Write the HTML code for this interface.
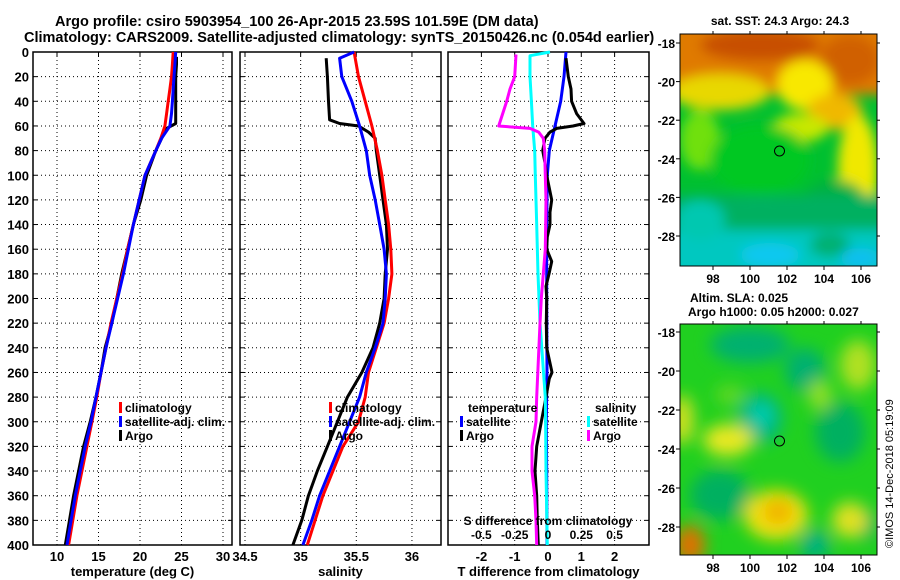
<!DOCTYPE html>
<html><head><meta charset="utf-8"><style>
html,body{margin:0;padding:0;background:#fff;}
svg{display:block;font-family:"Liberation Sans",sans-serif;font-weight:bold;}
</style></head><body>
<svg id="chart" width="900" height="580" viewBox="0 0 900 580" xmlns="http://www.w3.org/2000/svg">
<defs>
<filter id="blur1" x="-20%" y="-20%" width="140%" height="140%"><feGaussianBlur stdDeviation="6"/></filter>
<filter id="blur2" x="-20%" y="-20%" width="140%" height="140%"><feGaussianBlur stdDeviation="8"/></filter>
<clipPath id="clip1"><rect x="680" y="34" width="197" height="232"/></clipPath>
<clipPath id="clip2"><rect x="680" y="324" width="197" height="231"/></clipPath>
</defs>
<text x="55" y="26" font-size="14.5">Argo profile: csiro 5903954_100 26-Apr-2015 23.59S 101.59E (DM data)</text>
<text x="24" y="42" font-size="14.5">Climatology: CARS2009. Satellite-adjusted climatology: synTS_20150426.nc (0.054d earlier)</text>

<!-- SST map -->
<g clip-path="url(#clip1)">
<rect x="680" y="34" width="197" height="232" fill="#00c030"/>
<g filter="url(#blur1)">
<rect x="670" y="20" width="220" height="75" fill="#e07a00"/>
<ellipse cx="760" cy="45" rx="60" ry="16" fill="#c85000"/>
<ellipse cx="850" cy="60" rx="30" ry="25" fill="#d06000"/>
<ellipse cx="720" cy="92" rx="50" ry="18" fill="#e8d800"/>
<ellipse cx="805" cy="85" rx="28" ry="25" fill="#f8e800"/>
<ellipse cx="835" cy="112" rx="28" ry="18" fill="#f0b800"/>
<ellipse cx="858" cy="170" rx="20" ry="55" fill="#f0e800"/>
<ellipse cx="800" cy="128" rx="28" ry="14" fill="#c8e800"/>
<ellipse cx="700" cy="140" rx="20" ry="30" fill="#70e010"/>
<ellipse cx="760" cy="160" rx="50" ry="35" fill="#00c820"/>
<ellipse cx="835" cy="200" rx="30" ry="20" fill="#00b040"/>
<rect x="670" y="195" width="220" height="40" fill="#00b060"/>
<rect x="670" y="230" width="220" height="50" fill="#00c8c0"/>
<ellipse cx="700" cy="220" rx="25" ry="20" fill="#00c8b0"/>
<ellipse cx="770" cy="255" rx="30" ry="12" fill="#10c8f0"/>
<ellipse cx="830" cy="245" rx="20" ry="12" fill="#00b070"/>
<ellipse cx="860" cy="258" rx="20" ry="10" fill="#10c0f0"/>
</g>
</g>
<rect x="680" y="34" width="197" height="232" fill="none" stroke="#000" stroke-width="1"/>
<circle cx="779.5" cy="151" r="5" fill="none" stroke="#000" stroke-width="1"/>
<text x="780" y="25" font-size="12" text-anchor="middle">sat. SST: 24.3 Argo: 24.3</text>

<!-- SLA map -->
<g clip-path="url(#clip2)">
<rect x="680" y="324" width="197" height="231" fill="#20d020"/>
<g filter="url(#blur2)">
<ellipse cx="750" cy="345" rx="40" ry="18" fill="#00b070"/>
<ellipse cx="805" cy="370" rx="20" ry="22" fill="#00b070"/>
<ellipse cx="760" cy="418" rx="22" ry="25" fill="#00b888"/>
<ellipse cx="762" cy="415" rx="8" ry="9" fill="#00d8c0"/>
<ellipse cx="840" cy="432" rx="25" ry="30" fill="#00b060"/>
<ellipse cx="720" cy="495" rx="30" ry="25" fill="#00b060"/>
<ellipse cx="815" cy="545" rx="15" ry="15" fill="#00b080"/>
<ellipse cx="868" cy="525" rx="10" ry="15" fill="#00b060"/>
<ellipse cx="728" cy="440" rx="25" ry="16" fill="#e8e820"/>
<ellipse cx="682" cy="420" rx="12" ry="25" fill="#d0e020"/>
<ellipse cx="776" cy="515" rx="32" ry="25" fill="#f0e010"/>
<ellipse cx="778" cy="512" rx="15" ry="12" fill="#f0b000"/>
<ellipse cx="690" cy="545" rx="15" ry="20" fill="#e07000"/>
<ellipse cx="850" cy="520" rx="18" ry="18" fill="#e0e020"/>
<ellipse cx="858" cy="365" rx="18" ry="25" fill="#b0e020"/>
<ellipse cx="820" cy="395" rx="12" ry="15" fill="#90e020"/>
<ellipse cx="730" cy="395" rx="15" ry="10" fill="#60d820"/>
</g>
</g>
<rect x="680" y="324" width="197" height="231" fill="none" stroke="#000" stroke-width="1"/>
<circle cx="779.5" cy="441" r="5" fill="none" stroke="#000" stroke-width="1"/>
<text x="690" y="302" font-size="12">Altim. SLA: 0.025</text>
<text x="688" y="316" font-size="12">Argo h1000: 0.05 h2000: 0.027</text>
<text transform="translate(893,548) rotate(-90)" font-size="11" font-weight="normal">©IMOS 14-Dec-2018 05:19:09</text>

<g id="plots"></g>
</svg>
<script>
const depths = [0,10,20,30,40,50,60,70,80,100,120,140,160,180,200,220,240,260,280,300,320,340,360,380,400];
const tempClim = [24.0,23.9,23.8,23.6,23.4,23.2,23.0,22.5,21.9,20.6,19.9,19.2,18.5,17.9,17.2,16.5,15.9,15.3,14.8,14.2,13.6,13.0,12.4,11.9,11.4];
const tempSat = [24.3,24.2,24.1,24.0,23.9,23.8,23.6,22.6,21.9,20.6,19.9,19.2,18.6,18.0,17.3,16.6,15.9,15.3,14.7,14.1,13.4,12.8,12.2,11.7,11.2];
const argoDepths = [4,10,20,30,40,50,58,62,70,80,100,120,140,160,180,200,220,240,260,280,300,320,340,360,380,400];
const tempArgo = [24.4,24.4,24.3,24.3,24.3,24.3,24.3,23.2,22.6,21.9,20.8,20.1,19.2,18.5,17.8,17.2,16.6,15.8,15.3,14.7,14.0,13.2,12.6,12.0,11.5,11.0];
const salDepths = [0,5,20,40,60,80,100,120,140,160,180,200,220,240,260,280,300,320,340,360,380,400];
const salClim = [35.48,35.49,35.52,35.58,35.64,35.69,35.73,35.76,35.79,35.81,35.82,35.79,35.75,35.68,35.61,35.58,35.52,35.38,35.29,35.20,35.13,35.06];
const salSat = [35.48,35.35,35.37,35.46,35.53,35.59,35.62,35.67,35.71,35.75,35.77,35.76,35.74,35.67,35.59,35.53,35.44,35.35,35.26,35.17,35.10,35.02];
const salArgoDepths = [5,20,40,55,58,60,65,70,80,100,120,140,160,180,200,220,240,260,280,300,320,340,360,380,400];
const salArgo = [35.23,35.24,35.25,35.26,35.35,35.52,35.61,35.67,35.68,35.71,35.74,35.77,35.78,35.76,35.75,35.71,35.65,35.55,35.42,35.33,35.24,35.15,35.07,35.01,34.93];
const diffTDepths = [0,20,40,60,80,100,140,200,260,300,340,400];
const diffTSat = [0.54,0.48,0.38,0.21,0.04,-0.02,-0.04,-0.04,-0.03,-0.05,-0.04,-0.03];
const diffTArgoDepths = [5,20,30,40,50,58,60,62,65,70,80,90,100,120,130,140,150,160,170,180,190,200,220,240,255,260,265,280,300,320,340,360,380,400];
const diffTArgo = [0.54,0.61,0.69,0.71,0.86,1.08,0.75,0.26,0.06,-0.09,-0.16,-0.09,-0.04,0.11,0.06,0.06,-0.02,-0.04,0.11,0.03,-0.06,-0.04,-0.05,-0.04,0.08,0.12,0.04,-0.06,-0.20,-0.34,-0.39,-0.34,-0.32,-0.29];
const diffSSatDepths = [0,3,20,40,60,80,100,140,180,220,280,300,340,400];
const diffSSat = [0.015,-0.135,-0.135,-0.125,-0.115,-0.10,-0.095,-0.085,-0.075,-0.06,-0.02,-0.018,-0.015,-0.005];
const diffSArgoDepths = [2,20,30,40,50,60,62,65,70,80,100,120,160,200,220,280,300,320,340,360,380,400];
const diffSArgo = [-0.24,-0.25,-0.285,-0.31,-0.34,-0.37,-0.135,-0.07,-0.035,-0.025,-0.02,-0.015,-0.02,-0.05,-0.06,-0.085,-0.09,-0.12,-0.12,-0.10,-0.09,-0.085];
const depthTicks = [0,20,40,60,80,100,120,140,160,180,200,220,240,260,280,300,320,340,360,380,400];
const tempTicks = [10,15,20,25,30];
const salTicks = [34.5,35,35.5,36];
const diffTTicks = [-2,-1,0,1,2];
const diffSTicks = [-0.5,-0.25,0,0.25,0.5];
const diffSTickLabels = ['-0.5','-0.25','0','0.25','0.5'];

const NS = 'http://www.w3.org/2000/svg';
const root = document.getElementById('plots');
const TOP = 52, BOT = 545;
const yD = d => TOP + (d/400)*(BOT-TOP);
const xT = t => 57 + (t-10)*8.3;
const xS = s => 245 + (s-34.5)*111.3;
const xDT = t => 548 + t*33.3;
const xDS = s => 548 + s*133.2;

function mk(tag, attrs, parent){
  const e = document.createElementNS(NS, tag);
  for (const k in attrs) e.setAttribute(k, attrs[k]);
  (parent||root).appendChild(e);
  return e;
}
function panel(name, x0, x1, xs, xticks, xlabels, xtitle, showY){
  const g = mk('g', {});
  
  
  depthTicks.forEach(d => {
    if (d>0 && d<400) {
      const l = mk('line', {x1:x0, x2:x1, y1:yD(d), y2:yD(d), stroke:'#000', 'stroke-width':1, 'stroke-dasharray':'1 3'}, g);
      
      
    }
    mk('line', {x1:x0, x2:x0+4, y1:yD(d), y2:yD(d), stroke:'#000'}, g);
    mk('line', {x1:x1-4, x2:x1, y1:yD(d), y2:yD(d), stroke:'#000'}, g);
    if (showY) {
      const t = mk('text', {x:x0-4, y:yD(d)+5, 'text-anchor':'end', 'font-size':13}, g);
      t.textContent = d;
      
      
    }
  });
  xticks.forEach((v,i) => {
    const x = xs(v);
    const l = mk('line', {x1:x, x2:x, y1:TOP, y2:BOT, stroke:'#000', 'stroke-width':1, 'stroke-dasharray':'1 3'}, g);
    
    
    mk('line', {x1:x, x2:x, y1:TOP, y2:TOP+4, stroke:'#000'}, g);
    if (xlabels) {
      const t = mk('text', {x:x, y:BOT+16, 'text-anchor':'middle', 'font-size':13}, g);
      t.textContent = xlabels[i];
      
      
    }
  });
  const r = mk('rect', {x:x0, y:TOP, width:x1-x0, height:BOT-TOP, fill:'none', stroke:'#000', 'stroke-width':1.5}, g);
  
  
  const tt = mk('text', {x:(x0+x1)/2, y:576, 'text-anchor':'middle', 'font-size':13}, g);
  tt.textContent = xtitle;
  
  
  return g;
}
function series(g, name, depthArr, valArr, xs, color){
  const pts = valArr.map((v,i) => xs(v).toFixed(1)+','+yD(depthArr[i]).toFixed(1)).join(' ');
  const p = mk('polyline', {points:pts, fill:'none', stroke:color, 'stroke-width':3, 'stroke-linejoin':'round'}, g);
  
  
}
function legend(g, x, y, color, label, name){
  const m = mk('rect', {x:x, y:y-10, width:3, height:11, fill:color}, g);
  
  
  const t = mk('text', {x:x+6, y:y, 'font-size':12}, g);
  t.textContent = label;
  
  
}

const p1 = panel('temperature-panel', 33, 232, xT, tempTicks, tempTicks.map(String), 'temperature (deg C)', true);
series(p1, 'temp-argo-line', argoDepths, tempArgo, xT, '#000');
series(p1, 'temp-climatology-line', depths, tempClim, xT, '#f00');
series(p1, 'temp-satellite-line', depths, tempSat, xT, '#00f');
legend(p1, 119, 412, '#f00', 'climatology', 'legend-climatology');
legend(p1, 119, 426, '#00f', 'satellite-adj. clim.', 'legend-satellite');
legend(p1, 119, 440, '#000', 'Argo', 'legend-argo');

const p2 = panel('salinity-panel', 240, 441, xS, salTicks, ['34.5','35','35.5','36'], 'salinity', false);
series(p2, 'sal-argo-line', salArgoDepths, salArgo, xS, '#000');
series(p2, 'sal-climatology-line', salDepths, salClim, xS, '#f00');
series(p2, 'sal-satellite-line', salDepths, salSat, xS, '#00f');
legend(p2, 329, 412, '#f00', 'climatology', 'legend-climatology');
legend(p2, 329, 426, '#00f', 'satellite-adj. clim.', 'legend-satellite');
legend(p2, 329, 440, '#000', 'Argo', 'legend-argo');

const p3 = panel('difference-panel', 448, 649, xDT, diffTTicks, diffTTicks.map(String), 'T difference from climatology', false);
series(p3, 'diff-t-satellite-line', diffTDepths, diffTSat, xDT, '#00f');
series(p3, 'diff-t-argo-line', diffTArgoDepths, diffTArgo, xDT, '#000');
series(p3, 'diff-s-satellite-line', diffSSatDepths, diffSSat, xDS, '#0ff');
series(p3, 'diff-s-argo-line', diffSArgoDepths, diffSArgo, xDS, '#f0f');
const lt = mk('text', {x:468, y:412, 'font-size':12}, p3); lt.textContent = 'temperature';


const ls = mk('text', {x:595, y:412, 'font-size':12}, p3); ls.textContent = 'salinity';


legend(p3, 460, 426, '#00f', 'satellite', 'legend-t-satellite');
legend(p3, 460, 440, '#000', 'Argo', 'legend-t-argo');
legend(p3, 587, 426, '#0ff', 'satellite', 'legend-s-satellite');
legend(p3, 587, 440, '#f0f', 'Argo', 'legend-s-argo');
const st = mk('text', {x:548, y:525, 'text-anchor':'middle', 'font-size':12}, p3); st.textContent = 'S difference from climatology';


diffSTicks.forEach((v,i) => {
  const t = mk('text', {x:xDS(v), y:539, 'text-anchor':'middle', 'font-size':12}, p3);
  t.textContent = diffSTickLabels[i];
  
  
});

const mapLon = [98,100,102,104,106];
const mapLat = [-18,-20,-22,-24,-26,-28];
function mapAxes(name, top, bottom, latTop, latScale, showLon){
  const g = mk('g', {});
  
  
  mapLon.forEach(v => {
    const x = 787 + (v-102)*18.5;
    mk('line', {x1:x, x2:x, y1:bottom, y2:bottom+4, stroke:'#000'}, g);
    mk('line', {x1:x, x2:x, y1:top-3, y2:top, stroke:'#000'}, g);
    if (showLon) {
      const t = mk('text', {x:x, y:bottom+17, 'text-anchor':'middle', 'font-size':12}, g);
      t.textContent = v;
      
      
    }
  });
  mapLat.forEach(v => {
    const y = latTop + (-18 - v)*latScale;
    mk('line', {x1:676, x2:680, y1:y, y2:y, stroke:'#000'}, g);
    mk('line', {x1:877, x2:880, y1:y, y2:y, stroke:'#000'}, g);
    const t = mk('text', {x:675, y:y+5, 'text-anchor':'end', 'font-size':12}, g);
    t.textContent = v;
    
    
  });
}
mapAxes('sst-map-axes', 34, 266, 43, 19.3, true);
mapAxes('sla-map-axes', 324, 555, 332, 19.5, true);
</script>
</body></html>
